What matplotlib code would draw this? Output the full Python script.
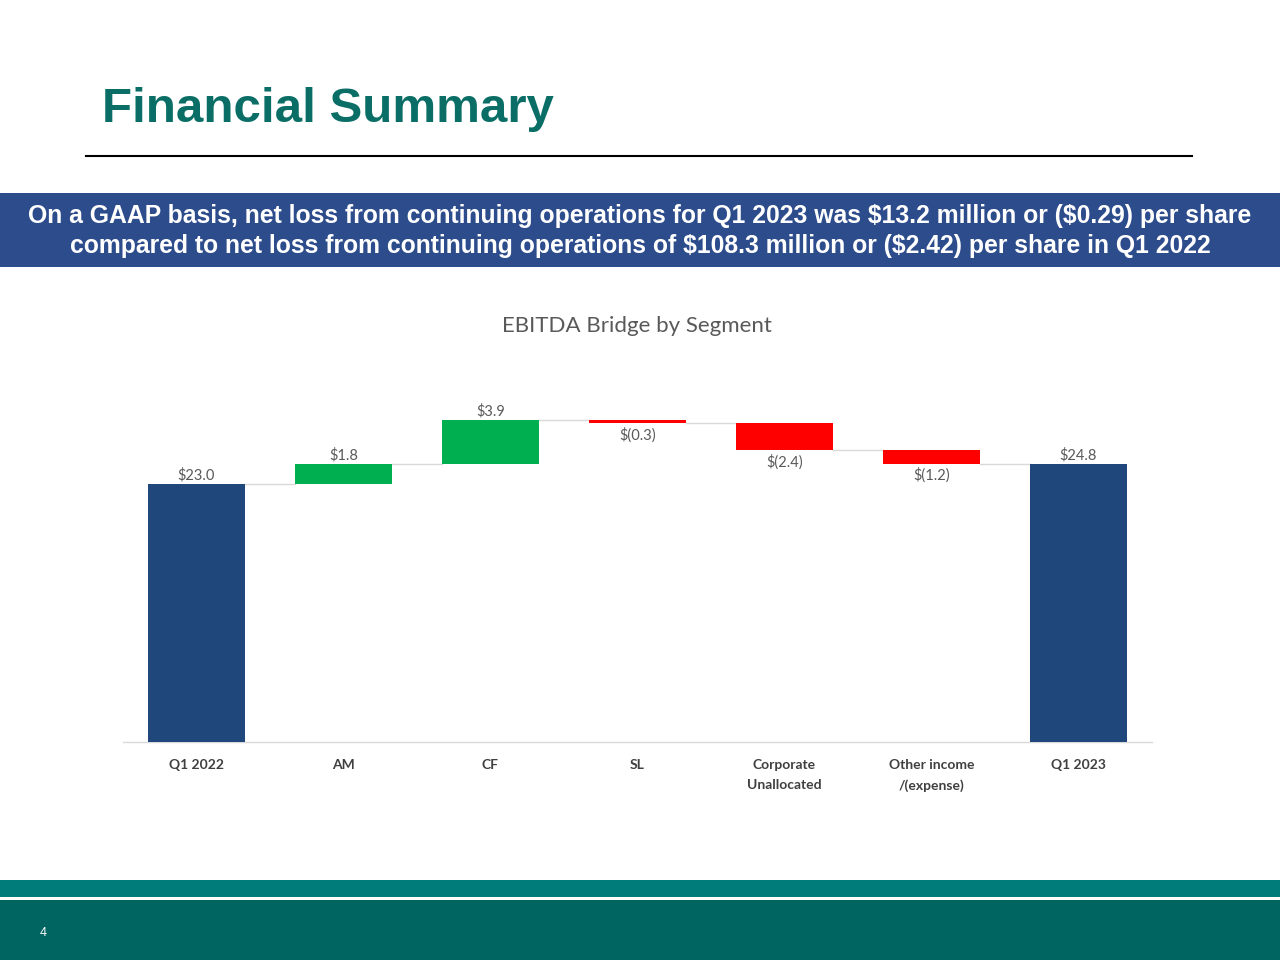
import matplotlib
matplotlib.use('Agg')
import matplotlib.pyplot as plt
from matplotlib.patches import Rectangle
import numpy as np

categories = ['Q1 2022', 'AM', 'CF', 'SL', 'Corporate\nUnallocated', 'Other income\n/(expense)', 'Q1 2023']
values = [23.0, 1.8, 3.9, -0.3, -2.4, -1.2, 24.8]
is_total = [True, False, False, False, False, False, True]

NAVY = '#1F477B'
GREEN = '#00B050'
RED = '#FF0000'
TEAL = '#0A6E66'
LABEL_GRAY = '#595959'


def fmt(v):
    return f'${v:.1f}' if v >= 0 else f'$({abs(v):.1f})'


fig = plt.figure(figsize=(12.8, 9.6), dpi=100)
fig.patch.set_facecolor('white')

# page title + rule
fig.text(102 / 1280, 1 - 110 / 960, 'Financial Summary', family='Liberation Sans',
         weight='bold', fontsize=35.5, color=TEAL, va='center', ha='left')
fig.add_artist(plt.Line2D([86 / 1280, 1192 / 1280], [1 - 156 / 960] * 2,
                          color='black', lw=1.5, transform=fig.transFigure))

# blue banner
fig.patches.append(Rectangle((0, 1 - 267 / 960), 1, 74 / 960, transform=fig.transFigure,
                             facecolor='#2D4C8C', edgecolor='none', zorder=0))
banner = ['On a GAAP basis, net loss from continuing operations for Q1 2023 was $13.2 million or ($0.29) per share',
          'compared to net loss from continuing operations of $108.3 million or ($2.42) per share in Q1 2022']
for line, yp in zip(banner, [216, 246]):
    fig.text(0.5, 1 - yp / 960, line, family='Liberation Sans', weight='bold', fontsize=17.8,
             color='white', ha='center', va='center', parse_math=False)

# footer bands
fig.patches.append(Rectangle((0, 1 - 897 / 960), 1, 17 / 960, transform=fig.transFigure,
                             facecolor='#007C7A', edgecolor='none', zorder=0))
fig.patches.append(Rectangle((0, 0), 1, 60 / 960, transform=fig.transFigure,
                             facecolor='#006461', edgecolor='none', zorder=0))
fig.text(43 / 1280, 1 - 933 / 960, '4', family='Liberation Sans', fontsize=9,
         color='white', ha='center', va='center')

# chart
ax = fig.add_axes([123 / 1280, 1 - 742 / 960, (1152 - 123) / 1280, 362 / 960])
x = np.arange(len(categories))
bottoms, heights, colors = [], [], []
running = 0.0
for v, tot in zip(values, is_total):
    if tot:
        bottoms.append(0)
        heights.append(v)
        colors.append(NAVY)
        running = v
    else:
        bottoms.append(running if v >= 0 else running + v)
        heights.append(abs(v))
        colors.append(GREEN if v >= 0 else RED)
        running += v

width = 0.66
ax.bar(x, heights, bottom=bottoms, width=width, color=colors, zorder=3)

# connectors
level = values[0]
for i in range(len(values) - 1):
    if i > 0 and not is_total[i]:
        level += values[i]
    ax.plot([x[i] + width / 2, x[i + 1] - width / 2], [level, level],
            color='#D9D9D9', lw=1, zorder=2)

# data labels
for i, (v, b, h) in enumerate(zip(values, bottoms, heights)):
    if v >= 0:
        ax.text(x[i], b + h + 0.1, fmt(v), ha='center', va='bottom',
                family='Lato', fontsize=10.5, color=LABEL_GRAY)
    else:
        ax.text(x[i], b - 0.35, fmt(v), ha='center', va='top',
                family='Lato', fontsize=10.5, color=LABEL_GRAY)

ax.set_xlim(-0.5, 6.5)
ax.set_ylim(0, 362 / 11.22)
ax.set_xticks(x)
ax.set_xticklabels(categories, family='Lato', weight='bold', fontsize=10,
                   color='#404040', linespacing=1.85, va='top')
ax.tick_params(axis='x', length=0, pad=12)
ax.set_yticks([])
for s in ['top', 'right', 'left']:
    ax.spines[s].set_visible(False)
ax.spines['bottom'].set_color('#D9D9D9')
ax.spines['bottom'].set_linewidth(1)

fig.text(637 / 1280, 1 - 326 / 960, 'EBITDA Bridge by Segment', family='Lato',
         fontsize=16, color=LABEL_GRAY, ha='center', va='center')

fig.savefig('out.png', dpi=100, facecolor='white')
